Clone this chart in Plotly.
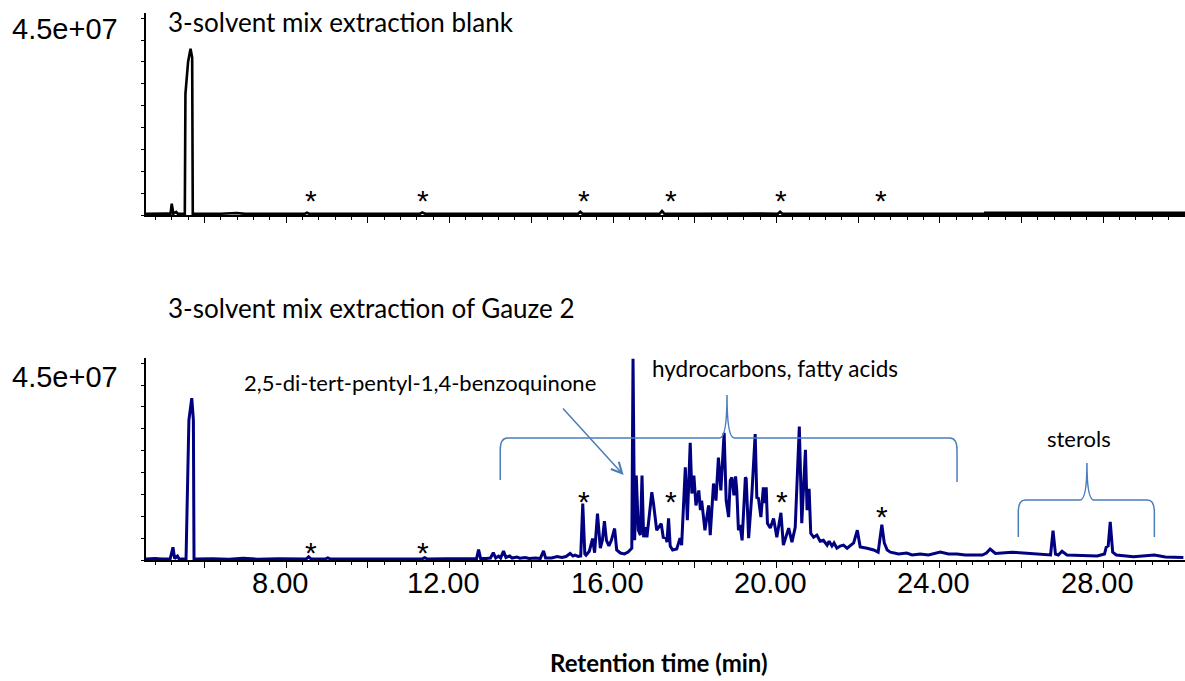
import plotly.graph_objects as go

# ---------------- data (retention time in min, abundance in millions of counts) -------------
blank_time = [4.57, 4.80, 4.95, 5.10, 5.17, 5.20, 5.24, 5.31, 5.35, 5.52, 5.535, 5.60, 5.66, 5.70, 5.715,
              5.78, 6.40, 6.79, 7.00, 7.80, 8.45, 8.51, 8.57, 9.50, 10.50, 11.27, 11.33, 11.40, 12.50,
              13.70, 15.14, 15.20, 15.26, 16.50, 17.14, 17.20, 17.26, 18.00, 18.80, 19.50, 20.03,
              20.09, 20.15, 21.50, 22.60, 23.50, 25.00, 30.00]
blank_abund = [0.25, 0.35, 0.25, 0.35, 0.25, 2.6, 0.3, 0.7, 0.25, 0.25, 27.7, 35.0, 38.0, 36.0, 0.3,
               0.25, 0.3, 0.45, 0.25, 0.3, 0.25, 0.55, 0.25, 0.25, 0.27, 0.25, 0.6, 0.28, 0.25,
               0.27, 0.25, 0.75, 0.25, 0.25, 0.25, 0.9, 0.25, 0.3, 0.35, 0.35, 0.25,
               0.75, 0.25, 0.25, 0.35, 0.25, 0.27, 0.3]
blank_noise_time = [25.08, 30.00]
blank_noise_abund = [0.35, 0.35]

gauze_time = [4.57, 4.79, 4.96, 5.09, 5.16, 5.23, 5.27, 5.34, 5.38, 5.55, 5.62, 5.69, 5.73, 5.745,
              5.80, 6.20, 6.60, 6.95, 7.30, 7.80, 8.20, 8.49, 8.55, 8.61, 8.95, 9.02, 9.09, 9.60,
              10.20, 10.80, 11.32, 11.39, 11.46, 11.90, 12.30, 12.60, 12.66, 12.71, 12.76, 12.90,
              13.00, 13.07, 13.13, 13.20, 13.25, 13.32, 13.38, 13.47, 13.53, 13.65, 13.72, 13.85,
              13.95, 14.10, 14.22, 14.30, 14.35, 14.50, 14.63, 14.75, 14.85, 14.95, 15.02, 15.07,
              15.15, 15.21, 15.26, 15.31, 15.34, 15.42, 15.50, 15.55, 15.62, 15.69, 15.74, 15.79,
              15.84, 15.90, 15.96, 16.04, 16.09, 16.18, 16.28, 16.37, 16.43, 16.46, 16.49, 16.53,
              16.57, 16.62, 16.67, 16.71, 16.75, 16.79, 16.83, 16.95, 16.99, 17.07, 17.18, 17.23,
              17.30, 17.32, 17.36, 17.40, 17.46, 17.56, 17.64, 17.68, 17.77, 17.82, 17.89, 17.93,
              17.98, 18.03, 18.10, 18.14, 18.17, 18.25, 18.34, 18.38, 18.46, 18.52, 18.58, 18.64,
              18.72, 18.77, 18.83, 18.87, 18.91, 18.96, 19.00, 19.03, 19.07, 19.11, 19.16, 19.20,
              19.24, 19.26, 19.32, 19.40, 19.48, 19.52, 19.56, 19.62, 19.68, 19.72, 19.75, 19.78,
              19.85, 19.93, 20.01, 20.11, 20.17, 20.30, 20.38, 20.46, 20.56, 20.62, 20.71, 20.75,
              20.80, 20.84, 20.91, 20.99, 21.07, 21.15, 21.24, 21.29, 21.36, 21.41, 21.48, 21.56,
              21.64, 21.73, 21.80, 21.89, 21.98, 22.05, 22.22, 22.38, 22.49, 22.58, 22.64, 22.71,
              22.79, 22.99, 23.19, 23.32, 23.52, 23.72, 24.01, 24.21, 24.42, 24.62, 24.83, 25.04,
              25.14, 25.23, 25.36, 25.52, 25.76, 26.04, 26.38, 26.66, 26.71, 26.77, 26.83, 26.90,
              26.99, 27.11, 27.44, 27.85, 28.03, 28.07, 28.12, 28.17, 28.23, 28.32, 28.74, 29.25,
              29.52, 29.96]
gauze_abund = [0.23, 0.34, 0.23, 0.34, 0.23, 2.9, 0.34, 0.9, 0.23, 0.25, 32.0, 37.0, 32.0, 0.3,
               0.25, 0.3, 0.2, 0.4, 0.2, 0.28, 0.2, 0.22, 0.75, 0.22, 0.22, 0.5, 0.22, 0.2,
               0.27, 0.2, 0.22, 0.55, 0.22, 0.27, 0.22, 0.27, 0.27, 2.4, 0.34, 0.34,
               0.45, 1.66, 0.45, 0.9, 0.45, 2.05, 0.57, 0.9, 0.45, 0.68, 0.41, 0.57,
               0.34, 0.45, 0.34, 2.1, 0.45, 0.45, 0.8, 0.57, 0.8, 1.5, 0.9, 1.1,
               0.8, 0.9, 12.9, 1.4, 1.1, 2.0, 4.9, 1.66, 10.6, 2.7, 4.5, 8.9,
               4.5, 3.2, 4.5, 7.2, 2.3, 1.6, 1.4, 1.8, 2.3, 2.7, 46.0, 4.5,
               19.3, 6.8, 5.7, 19.3, 5.2, 7.5, 5.2, 15.5, 13.0, 6.8, 8.3, 5.2,
               5.0, 4.1, 9.5, 3.2, 2.3, 2.5, 5.0, 3.4, 21.2, 9.1, 26.8, 15.2,
               19.3, 12.5, 15.9, 11.4, 13.6, 6.8, 12.5, 5.7, 17.5, 13.6, 23.4, 15.9,
               29.1, 13.6, 9.8, 18.2, 18.9, 14.8, 19.1, 15.9, 6.8, 8.0, 4.5, 11.4,
               18.9, 18.6, 5.0, 15.2, 28.8, 14.3, 14.1, 9.8, 16.6, 13.0, 16.6, 8.4,
               7.3, 9.5, 5.2, 10.8, 3.4, 7.3, 4.1, 7.5, 30.5, 8.4, 25.2, 11.4,
               16.3, 6.1, 5.2, 5.7, 4.3, 4.5, 3.4, 4.3, 3.2, 3.9, 2.7, 3.2,
               3.4, 2.7, 3.2, 3.9, 6.8, 3.0, 2.7, 2.3, 1.8, 8.1, 3.9, 2.3,
               1.8, 1.4, 1.6, 1.14, 1.36, 1.14, 1.8, 1.36, 1.36, 1.14, 1.14, 1.14,
               1.6, 2.5, 1.5, 1.6, 1.8, 1.6, 1.36, 1.14, 1.14, 6.7, 1.36, 1.14,
               2.0, 1.14, 0.98, 0.9, 1.36, 2.9, 3.2, 8.7, 1.8, 1.14, 0.75, 1.14,
               0.7, 0.6]

blank_star_times = [8.62, 11.34, 15.28, 17.41, 20.12, 22.55]
gauze_star_times = [8.62, 11.36, 15.28, 17.41, 20.14, 22.58]

tick_vals = [6, 8, 10, 12, 14, 16, 18, 20, 22, 24, 26, 28, 30]
label_vals = [8, 12, 16, 20, 24, 28]
label_text = ["8.00", "12.00", "16.00", "20.00", "24.00", "28.00"]

hydrocarbon_span = [13.24, 18.79, 24.42]   # start, label point, end
sterol_span = [25.92, 27.60, 29.25]
quinone_time = 16.26

# ---------------- layout helpers ----------------
W, H = 1185, 681
X_RANGE = [4.57, 30.0]
Y_RANGE = [0, 46.2]
BLUE = "#4a7ebb"
NAVY = "#000080"


def py(y):
    return 1 - y / H


def px(x):
    return x / W


fig = go.Figure()
fig.add_trace(go.Scatter(x=blank_time, y=blank_abund, mode="lines",
                         line=dict(color="black", width=2.6), xaxis="x", yaxis="y",
                         showlegend=False, hoverinfo="skip"))
fig.add_trace(go.Scatter(x=blank_noise_time, y=blank_noise_abund, mode="lines",
                         line=dict(color="black", width=4), xaxis="x", yaxis="y",
                         showlegend=False, hoverinfo="skip"))
fig.add_trace(go.Scatter(x=gauze_time, y=gauze_abund, mode="lines",
                         line=dict(color=NAVY, width=3), xaxis="x2", yaxis="y2",
                         showlegend=False, hoverinfo="skip"))

xdom = [px(146), 1.0]
xaxis_common = dict(range=X_RANGE, domain=xdom, showgrid=False, zeroline=False,
                    showline=True, linecolor="black", linewidth=1.5,
                    ticks="outside", tickvals=tick_vals, ticklen=6, tickwidth=1.2,
                    tickcolor="black", showticklabels=False,
                    minor=dict(dtick=0.4, tick0=6, ticks="outside", ticklen=3,
                               tickwidth=1, tickcolor="black"))
yaxis_common = dict(range=Y_RANGE, showgrid=False, zeroline=False, showline=True,
                    linecolor="black", linewidth=1.5, ticks="outside", dtick=5,
                    ticklen=3, tickwidth=1, tickcolor="black", showticklabels=False)

fig.update_layout(
    width=W, height=H, margin=dict(l=0, r=0, t=0, b=0),
    paper_bgcolor="white", plot_bgcolor="white",
    xaxis=dict(xaxis_common, anchor="y"),
    yaxis=dict(yaxis_common, anchor="x", domain=[py(215), py(13)]),
    xaxis2=dict(xaxis_common, anchor="y2"),
    yaxis2=dict(yaxis_common, anchor="x2", domain=[py(560), py(358)]),
)

TXT = "Lato, Calibri, Carlito, sans-serif"
ann = []
for yy in (29, 377):
    ann.append(dict(text="4.5e+07", x=px(10), y=py(yy), xref="paper", yref="paper",
                    xanchor="left", yanchor="middle", showarrow=False,
                    font=dict(family="Liberation Sans, Arial", size=29, color="black")))
for v, s in zip(label_vals, label_text):
    ann.append(dict(text=s, x=v, xshift=-6, y=py(583), xref="x2", yref="paper",
                    xanchor="center", yanchor="middle", showarrow=False,
                    font=dict(family="Liberation Sans, Arial", size=29, color="black")))
ann.append(dict(text="3-solvent mix extraction blank", x=px(166), y=py(22), xref="paper",
                yref="paper", xanchor="left", yanchor="middle", showarrow=False,
                font=dict(family=TXT, size=26, color="black")))
ann.append(dict(text="3-solvent mix extraction of Gauze 2", x=px(166), y=py(308), xref="paper",
                yref="paper", xanchor="left", yanchor="middle", showarrow=False,
                font=dict(family=TXT, size=26, color="black")))
ann.append(dict(text="2,5-di-tert-pentyl-1,4-benzoquinone", x=px(242), y=py(382), xref="paper",
                yref="paper", xanchor="left", yanchor="middle", showarrow=False,
                font=dict(family=TXT, size=22, color="black")))
ann.append(dict(text="hydrocarbons, fatty acids", x=px(650), y=py(368), xref="paper",
                yref="paper", xanchor="left", yanchor="middle", showarrow=False,
                font=dict(family=TXT, size=22.5, color="black")))
ann.append(dict(text="sterols", x=sterol_span[1] - 0.2, y=py(438), xref="x2",
                yref="paper", xanchor="center", yanchor="middle", showarrow=False,
                font=dict(family=TXT, size=22, color="black")))
ann.append(dict(text="<b>Retention time (min)</b>", x=px(659), y=py(662), xref="paper",
                yref="paper", xanchor="center", yanchor="middle", showarrow=False,
                font=dict(family=TXT, size=24, color="black")))
for t in blank_star_times:
    ann.append(dict(text="*", x=t, y=py(200), xref="x", yref="paper", xanchor="center",
                    yanchor="middle", showarrow=False,
                    font=dict(family="Liberation Sans, Arial", size=30, color="black")))
gauze_star_y = [552, 552, 502, 502, 502, 516]
for t, yy in zip(gauze_star_times, gauze_star_y):
    ann.append(dict(text="*", x=t, y=py(yy), xref="x2", yref="paper", xanchor="center",
                    yanchor="middle", showarrow=False,
                    font=dict(family="Liberation Sans, Arial", size=30, color="black")))
# arrow to the benzoquinone peak
ann.append(dict(text="", x=quinone_time, y=py(475), xref="x2", yref="paper",
                showarrow=True, ax=-62, ay=-68, arrowcolor=BLUE, arrowwidth=1.5,
                arrowhead=5, arrowsize=1.4, standoff=0))
fig.update_layout(annotations=ann)


def brace(t0, tc, t1, y_end0, y_end1, y_bar, y_tip, dx=0.18, dy=12):
    p = [f"M{t0},{py(y_end0)}", f"L{t0},{py(y_bar + dy)}",
         f"Q{t0},{py(y_bar)} {t0 + dx},{py(y_bar)}",
         f"L{tc - dx},{py(y_bar)}", f"Q{tc},{py(y_bar)} {tc},{py(y_tip)}",
         f"Q{tc},{py(y_bar)} {tc + dx},{py(y_bar)}",
         f"L{t1 - dx},{py(y_bar)}", f"Q{t1},{py(y_bar)} {t1},{py(y_bar + dy)}",
         f"L{t1},{py(y_end1)}"]
    return " ".join(p)


shapes = [
    dict(type="path", xref="x2", yref="paper",
         path=brace(hydrocarbon_span[0], hydrocarbon_span[1], hydrocarbon_span[2], 480, 482, 438, 395),
         line=dict(color=BLUE, width=1.5)),
    dict(type="path", xref="x2", yref="paper",
         path=brace(sterol_span[0], sterol_span[1], sterol_span[2], 537, 537, 500, 463, dx=0.17),
         line=dict(color=BLUE, width=1.5)),
]
fig.update_layout(shapes=shapes)

fig.write_html("out.html")
